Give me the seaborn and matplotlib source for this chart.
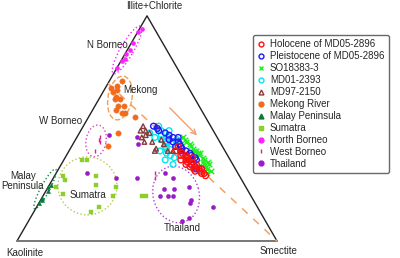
import numpy as np
import pandas as pd
import seaborn as sns
import matplotlib.pyplot as plt
from matplotlib.patches import Ellipse
from matplotlib.lines import Line2D

# (illite+chlorite %, smectite %) -- kaolinite is the remainder
HOLOCENE = [(42, 41), (40, 41), (39, 44), (38, 44), (37, 47), (36, 47), (35, 50), (34, 48),
            (34, 50), (34, 52), (33, 52), (32, 54), (32, 55), (32, 52), (30, 56), (29, 58),
            (36, 45), (35, 48), (33, 50), (31, 55), (30, 57), (38, 46), (37, 49), (31, 53)]
PLEISTOCENE = [(51, 27), (50, 29), (48, 33), (46, 37), (45, 36), (44, 40), (42, 40), (41, 43),
               (40, 43), (40, 45), (38, 46), (36, 49), (35, 50), (37, 50), (32, 53), (32, 55),
               (46, 39), (37, 47), (47, 35), (43, 41), (39, 47), (36, 51), (34, 50), (44, 38),
               (42, 42), (38, 48), (33, 52), (49, 30)]
SO18383 = [(45, 40), (45, 42), (43, 45), (40, 48), (40, 49), (38, 51), (39, 51), (36, 54),
           (35, 54), (33, 53), (33, 56), (34, 57), (32, 57), (31, 59), (44, 43), (42, 46),
           (41, 47), (37, 53), (35, 56), (34, 55), (30, 58), (46, 41), (39, 50)]
MD01_2393 = [(48, 27), (46, 30), (45, 33), (43, 36), (43, 38), (38, 40), (37, 42), (49, 34),
             (49, 31), (40, 35), (34, 43), (51, 29), (46, 35), (45, 39), (36, 39), (47, 32),
             (44, 35), (41, 37), (39, 38), (42, 36)]
MD97_2150 = [(51, 23), (49, 25), (46, 25), (44, 27), (40, 33), (41, 33), (48, 27), (43, 35),
             (44, 30), (47, 26), (49, 23), (45, 33), (51, 28), (40, 38), (40, 40)]
MEKONG = [(71, 5), (69, 4), (67, 5), (66, 4), (64, 6), (63, 8), (60, 9), (60, 11), (58, 9),
          (57, 12), (57, 13), (63, 6), (55, 18), (48, 15), (42, 14), (68, 2)]
MALAY = [(25, 0.5), (24, 0), (22, 1), (19, 0), (18, 0.5), (17, 0)]
SUMATRA = [(36, 7), (36, 9), (29, 3), (27, 5), (24, 3), (29, 16), (25, 18), (21, 7),
           (24, 26), (20, 27), (15, 24), (13, 22), (20, 38), (20, 39.5)]
N_BORNEO = [(94, 1), (93, 0), (88, 0.5), (85, 1), (83, 0.5), (81, 1), (80, 0.5), (77, 0)]
W_BORNEO = [(46, 9), (45, 9), (44, 10), (40, 10), (30, 38), (28, 39)]
THAILAND = [(47, 12), (46, 23), (43, 25), (28, 24), (28, 32), (30, 12), (30, 42), (28, 46),
            (23, 45), (23, 49), (20, 45), (20, 48), (20, 50), (24, 54), (18, 58), (17, 58),
            (9, 59), (10, 61), (15, 68)]

# mixing line Mekong -> smectite end member, and trend arrow
MIX_LINE = [(70, 0), (0, 100)]
TREND_ARROW = [(60, 28), (46, 47)]

GROUPS = {
    "Holocene of MD05-2896": HOLOCENE,
    "Pleistocene of MD05-2896": PLEISTOCENE,
    "SO18383-3": SO18383,
    "MD01-2393": MD01_2393,
    "MD97-2150": MD97_2150,
    "Mekong River": MEKONG,
    "Malay Peninsula": MALAY,
    "Sumatra": SUMATRA,
    "North Borneo": N_BORNEO,
    "West Borneo": W_BORNEO,
    "Thailand": THAILAND,
}

# marker, colour, filled, size
STYLES = {
    "Holocene of MD05-2896": ("o", "#ff1010", False, 17),
    "Pleistocene of MD05-2896": ("o", "#1a1aff", False, 17),
    "SO18383-3": ("x", "#22ee22", True, 16),
    "MD01-2393": ("o", "#00e8f0", False, 17),
    "MD97-2150": ("^", "#8a3a3a", False, 11),
    "Mekong River": ("o", "#f26a1b", True, 15),
    "Malay Peninsula": ("^", "#0a7a3a", True, 9),
    "Sumatra": ("s", "#8ccf2a", True, 8),
    "North Borneo": ("o", "#ff20ff", True, 9),
    "West Borneo": ("|", "#e0208c", True, 10),
    "Thailand": ("o", "#9a1ac8", True, 9),
}
DRAW_ORDER = ["Mekong River", "Malay Peninsula", "Sumatra", "North Borneo", "West Borneo",
              "Thailand", "SO18383-3", "MD01-2393", "MD97-2150",
              "Pleistocene of MD05-2896", "Holocene of MD05-2896"]

H = np.sqrt(3) / 2


def to_xy(pairs):
    arr = np.asarray(pairs, dtype=float)
    ill, sme = arr[:, 0], arr[:, 1]
    return sme + ill / 2, ill * H


frames = []
for name, pts in GROUPS.items():
    x, y = to_xy(pts)
    frames.append(pd.DataFrame({"group": name, "x": x, "y": y}))
df = pd.concat(frames, ignore_index=True)

sns.set_style("white")
plt.rcParams["font.family"] = ["Liberation Sans", "DejaVu Sans"]

fig = plt.figure(figsize=(4, 2.58), dpi=100)
ax = fig.add_axes([0, 0, 1, 1])
ax.set_xlim(-17 / 2.6, 383 / 2.6)
ax.set_ylim(-17 / 2.6, 241 / 2.6)
ax.axis("off")

# triangle frame
ax.plot([0, 50, 100], [0, 100 * H, 0], color="#222222", lw=1.0, zorder=1)
ax.plot([0, 100], [0, 0], color="#777777", lw=1.4, zorder=1)

# mixing line and arrow
mx, my = to_xy(MIX_LINE)
ax.plot(mx, my, color="#f4a062", lw=1.1, ls=(0, (5, 5)), zorder=1)
ax_, ay_ = to_xy(TREND_ARROW)
ax.annotate("", xy=(ax_[1], ay_[1]), xytext=(ax_[0], ay_[0]),
            arrowprops=dict(arrowstyle="->", color="#f2a070", lw=1.0, mutation_scale=9))

# source-area envelopes
envelopes = [
    ((42.3, 73.5), 21.0, 5.0, 60, "#ff20ff", ":"),
    ((39.6, 55.0), 17.0, 9.2, 80, "#f0a050", "--"),
    ((30.4, 38.5), 12.3, 7.7, 80, "#e040c0", ":"),
    ((10.8, 20.0), 17.3, 3.4, 62, "#0a8a4a", ":"),
    ((27.1, 21.2), 22.7, 22.3, 0, "#b8c850", ":"),
    ((61.2, 17.9), 22.0, 17.7, 105, "#b040d0", ":"),
]
for (cx, cy), w, h, ang, col, ls in envelopes:
    ax.add_patch(Ellipse((cx, cy), w, h, angle=ang, fill=False, edgecolor=col,
                         lw=1.0, ls=ls, zorder=2))

for name in DRAW_ORDER:
    marker, col, filled, size = STYLES[name]
    sub = df[df["group"] == name]
    kws = dict(marker=marker, s=size, ax=ax, legend=False, zorder=3)
    if marker in ("x", "|"):
        kws.update(color=col, linewidth=1.0)
    elif filled:
        kws.update(color=col, edgecolor=col, linewidth=0.3)
    else:
        kws.update(color=col, facecolor="none", edgecolor=col, linewidth=1.0)
    sns.scatterplot(data=sub, x="x", y="y", **kws)

handles = []
for name in GROUPS:
    marker, col, filled, size = STYLES[name]
    handles.append(Line2D([], [], ls="None", marker=marker, color=col,
                          markerfacecolor=(col if filled else "none"),
                          markeredgecolor=col, markersize=3.5, markeredgewidth=1.0,
                          label=name))

leg = ax.legend(handles=handles, loc="upper left", bbox_to_anchor=(253 / 400, 1 - 35 / 258),
                bbox_transform=fig.transFigure, borderaxespad=0, fontsize=7,
                handlelength=0.8, handletextpad=0.5, labelspacing=0.2, borderpad=0.45,
                frameon=True, fancybox=True, edgecolor="#444444")
leg.get_frame().set_linewidth(1.0)

# labels
ax.text(52.7, 90.4, "Illite+Chlorite", fontsize=7, ha="center", va="center")
ax.text(3.1, -4.6, "Kaolinite", fontsize=7, ha="center", va="center")
ax.text(100.4, -3.8, "Smectite", fontsize=7, ha="center", va="center")
ax.text(42.7, 75.4, "N Borneo", fontsize=7, ha="right", va="center")
ax.text(40.8, 58.1, "Mekong", fontsize=7, ha="left", va="center")
ax.text(25.0, 46.2, "W Borneo", fontsize=7, ha="right", va="center")
ax.text(2.3, 23.1, "Malay\nPeninsula", fontsize=7, ha="center", va="center", linespacing=1.1)
ax.text(27.3, 17.7, "Sumatra", fontsize=7, ha="center", va="center")
ax.text(63.5, 5.0, "Thailand", fontsize=7, ha="center", va="center")

fig.savefig("out.png", dpi=100)
